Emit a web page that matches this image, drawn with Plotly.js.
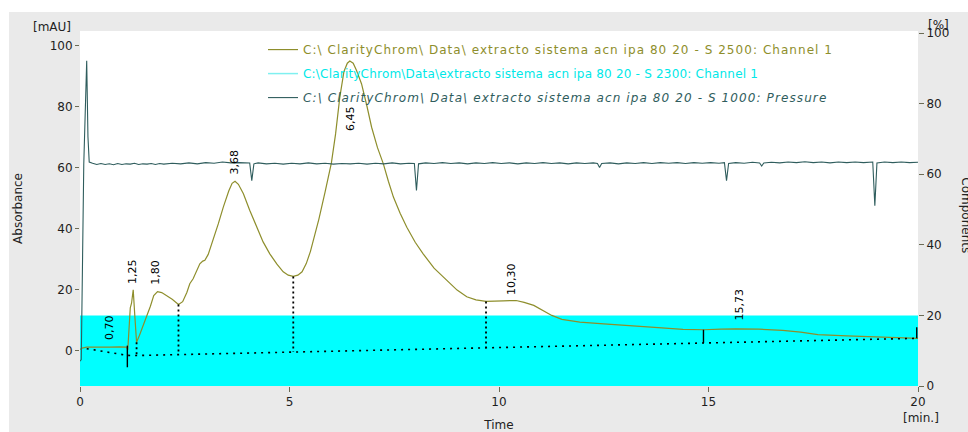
<!DOCTYPE html>
<html>
<head>
<meta charset="utf-8">
<script src="https://cdn.plot.ly/plotly-3.0.1.min.js"></script>
<style>html,body{margin:0;padding:0;background:#fff}#chart{width:968px;height:432px}</style>
</head>
<body>
<div id="chart"></div>
<script>
// ---- Data ----
const channelName = 'C:\\ ClarityChrom\\ Data\\ extracto sistema acn ipa 80 20 - S 2500: Channel 1';
const componentName = 'C:\\ClarityChrom\\Data\\extracto sistema acn ipa 80 20 - S 2300: Channel 1';
const pressureName = 'C:\\ ClarityChrom\\ Data\\ extracto sistema acn ipa 80 20 - S 1000: Pressure';

const channelTime = [0, 0.05, 0.16, 0.4, 0.7, 0.95, 1.11, 1.14, 1.17, 1.20, 1.23, 1.27, 1.31, 1.35, 1.42, 1.50, 1.59, 1.68, 1.76, 1.85, 1.95, 2.07, 2.20, 2.35, 2.45, 2.55, 2.62, 2.70, 2.78, 2.86, 2.93, 2.98, 3.06, 3.18, 3.30, 3.42, 3.55, 3.63, 3.70, 3.78, 3.90, 4.05, 4.22, 4.37, 4.53, 4.70, 4.85, 4.97, 5.09, 5.20, 5.30, 5.40, 5.50, 5.57, 5.70, 5.85, 6.00, 6.10, 6.20, 6.30, 6.38, 6.44, 6.52, 6.60, 6.72, 6.85, 6.96, 7.10, 7.24, 7.36, 7.48, 7.64, 7.80, 8.00, 8.19, 8.45, 8.75, 9.00, 9.23, 9.45, 9.69, 9.90, 10.10, 10.41, 10.60, 10.83, 11.05, 11.26, 11.50, 11.93, 12.50, 13.12, 13.80, 14.39, 14.88, 15.30, 15.66, 16.20, 16.77, 17.20, 17.61, 18.30, 19.05, 20.00];
const channelAbs = [0.3, 0.8, 1.1, 1.0, 1.1, 1.2, 1.1, 0.2, 9.0, 14.0, 15.5, 19.9, 11.0, 2.7, 5.0, 8.0, 10.9, 14.5, 18.0, 19.3, 19.0, 18.0, 16.8, 15.1, 16.0, 19.0, 21.9, 23.5, 26.0, 28.4, 29.3, 29.6, 31.5, 36.3, 41.5, 47.0, 52.3, 54.8, 55.5, 54.5, 51.4, 46.0, 40.4, 35.6, 31.7, 28.3, 25.8, 24.7, 24.3, 24.7, 25.8, 28.5, 32.5, 36.1, 43.0, 52.0, 61.5, 71.0, 83.0, 91.5, 94.2, 94.9, 94.2, 91.8, 87.4, 80.0, 73.2, 66.5, 61.2, 55.5, 50.3, 45.0, 40.4, 35.5, 31.7, 27.0, 23.0, 19.8, 17.6, 16.6, 16.1, 16.3, 16.3, 16.4, 15.8, 14.8, 13.1, 11.5, 10.2, 9.3, 8.7, 8.2, 7.5, 6.9, 6.8, 7.0, 7.1, 7.0, 6.6, 6.0, 5.2, 4.8, 4.4, 4.0];

const componentTime = [0, 20];
const componentPct = [20, 20];

const pressureTime = [0.00, 0.03, 0.09, 0.13, 0.16, 0.19, 0.22, 0.30, 0.40, 0.50, 0.60, 0.70, 0.80, 0.90, 1.00, 1.10, 1.20, 1.30, 1.40, 1.50, 1.60, 1.70, 1.80, 1.90, 2.00, 2.20, 2.40, 2.60, 2.80, 3.00, 3.20, 3.40, 3.60, 3.80, 3.95, 4.05, 4.10, 4.15, 4.25, 4.45, 4.65, 4.85, 5.05, 5.25, 5.45, 5.65, 5.85, 6.05, 6.25, 6.45, 6.65, 6.85, 7.05, 7.25, 7.45, 7.65, 7.85, 7.98, 8.03, 8.08, 8.25, 8.45, 8.65, 8.85, 9.05, 9.25, 9.45, 9.65, 9.85, 10.05, 10.25, 10.45, 10.65, 10.85, 11.05, 11.25, 11.45, 11.65, 11.85, 12.05, 12.25, 12.35, 12.40, 12.45, 12.65, 12.85, 13.05, 13.25, 13.45, 13.65, 13.85, 14.05, 14.25, 14.45, 14.65, 14.85, 15.05, 15.25, 15.38, 15.43, 15.48, 15.65, 15.85, 16.05, 16.22, 16.27, 16.32, 16.50, 16.70, 16.90, 17.10, 17.30, 17.50, 17.70, 17.90, 18.10, 18.30, 18.50, 18.70, 18.92, 18.97, 19.02, 19.20, 19.40, 19.60, 19.80, 20.00];
const pressureValue = [-3.5, -3.0, 61.0, 80.0, 95.0, 70.0, 61.8, 61.4, 61.0, 61.3, 61.0, 61.2, 60.9, 61.3, 61.0, 61.2, 61.1, 61.4, 61.0, 61.2, 61.1, 61.3, 61.0, 61.3, 61.1, 61.4, 61.2, 61.5, 61.2, 61.6, 61.4, 61.8, 61.5, 61.6, 61.4, 61.5, 55.7, 61.2, 61.5, 61.2, 61.4, 61.1, 61.4, 61.2, 61.5, 61.2, 61.4, 61.1, 61.3, 61.2, 61.4, 61.1, 61.4, 61.2, 61.5, 61.2, 61.4, 61.3, 52.5, 61.2, 61.5, 61.3, 61.6, 61.3, 61.5, 61.2, 61.5, 61.3, 61.6, 61.3, 61.5, 61.2, 61.5, 61.3, 61.6, 61.3, 61.5, 61.2, 61.5, 61.3, 61.5, 61.3, 60.0, 61.3, 61.5, 61.2, 61.5, 61.3, 61.6, 61.3, 61.6, 61.4, 61.6, 61.3, 61.6, 61.4, 61.6, 61.4, 61.6, 55.7, 61.3, 61.6, 61.4, 61.7, 61.5, 60.5, 61.5, 61.7, 61.5, 61.8, 61.6, 61.9, 61.6, 61.8, 61.5, 61.8, 61.6, 61.8, 61.6, 61.8, 47.5, 61.5, 61.8, 61.6, 61.8, 61.6, 61.7];

const baselineTime = [0.16, 1.13, 1.35, 20];
const baselineValue = [0.6, -1.6, -1.65, 4.0];

const dropTime = [1.35, 2.35, 5.09, 9.69];
const dropTop = [2.7, 15.1, 24.3, 16.1];
const dropBottom = [-1.65, -1.3, -0.5, 0.9];

const markTime = [1.13, 14.88, 19.97];
const markTop = [1.6, 6.8, 7.6];
const markBottom = [-5.5, 2.4, 4.0];

const peakLabels = ['0,70', '1,25', '1,80', '3,68', '6,45', '10,30', '15,73'];
const peakTime = [0.70, 1.25, 1.80, 3.68, 6.45, 10.30, 15.73];

const xTicks = [0, 5, 10, 15, 20];
const yTicks = [0, 20, 40, 60, 80, 100];
const y2Ticks = [0, 20, 40, 60, 80, 100];

// ---- Styling ----
const FONT = 'DejaVu Sans, Verdana, sans-serif';
const OLIVE = '#8e8e2c';
const CYAN = '#00ffff';
const SLATE = '#2f5d5d';
const labelY = [7.5, 25.9, 25.6, 61.7, 76.0, 23.3, 15.1];

function segments(xs, tops, bottoms) {
  const sx = [], sy = [];
  xs.forEach((x, i) => { sx.push(x, x, null); sy.push(tops[i], bottoms[i], null); });
  return {x: sx, y: sy};
}
const drops = segments(dropTime, dropTop, dropBottom);
const marks = segments(markTime, markTop, markBottom);

const traces = [
  {x: componentTime, y: componentPct, yaxis: 'y2', type: 'scatter', mode: 'lines',
   fill: 'tozeroy', fillcolor: CYAN, line: {color: CYAN, width: 0}, showlegend: false, hoverinfo: 'skip'},
  {x: channelTime, y: channelAbs, type: 'scatter', mode: 'lines',
   name: '<span style="color:' + OLIVE + ';letter-spacing:1.05px">' + channelName + '</span>',
   legendgroup: 'a', line: {color: OLIVE, width: 1.2}},
  {x: [null], y: [null], type: 'scatter', mode: 'lines',
   name: '<span style="color:#00e8e8;letter-spacing:0.2px">' + componentName + '</span>',
   legendgroup: 'b', line: {color: '#7ff0f0', width: 1.5}},
  {x: pressureTime, y: pressureValue, type: 'scatter', mode: 'lines',
   name: '<i><span style="color:' + SLATE + ';letter-spacing:1.1px">' + pressureName + '</span></i>',
   legendgroup: 'c', line: {color: SLATE, width: 1.1}},
  {x: baselineTime, y: baselineValue, type: 'scatter', mode: 'lines', showlegend: false,
   line: {color: '#000', width: 1.6, dash: '2px,5px'}},
  {x: drops.x, y: drops.y, type: 'scatter', mode: 'lines', showlegend: false,
   line: {color: '#000', width: 1.8, dash: '2px,3px'}},
  {x: marks.x, y: marks.y, type: 'scatter', mode: 'lines', showlegend: false,
   line: {color: '#000', width: 1.4}}
];

const annotations = peakLabels.map((t, i) => ({
  x: peakTime[i], y: labelY[i], xref: 'x', yref: 'y', text: t, showarrow: false,
  textangle: -90, xanchor: 'center', yanchor: 'middle', font: {family: FONT, size: 11, color: '#000'}
}));
annotations.push(
  {xref: 'paper', yref: 'paper', x: -0.0084, y: 1.0099, xanchor: 'right', yanchor: 'middle', text: '[mAU]', showarrow: false, font: {family: FONT, size: 12, color: '#222'}},
  {xref: 'paper', yref: 'paper', x: 1.0239, y: 1.0169, xanchor: 'center', yanchor: 'middle', text: '[%]', showarrow: false, font: {family: FONT, size: 12, color: '#222'}},
  {xref: 'paper', yref: 'paper', x: 1.0036, y: -0.0901, xanchor: 'center', yanchor: 'middle', text: '[min.]', showarrow: false, font: {family: FONT, size: 12, color: '#222'}},
  {xref: 'paper', yref: 'paper', x: 1.058, y: 0.482, xanchor: 'center', yanchor: 'middle', text: 'Components', textangle: 90, showarrow: false, font: {family: FONT, size: 12, color: '#222'}}
);

const tickStyle = {ticks: 'outside', ticklen: 5, tickwidth: 1, tickcolor: '#6b6b55', showgrid: false, zeroline: false, showline: false,
  tickfont: {family: FONT, size: 12, color: '#1e1e1e'}};

const layout = {
  width: 968, height: 432,
  margin: {l: 80, r: 50, t: 31, b: 46},
  paper_bgcolor: '#eaeaea', plot_bgcolor: '#ffffff',
  showlegend: true,
  legend: {x: 0.2184, y: 0.9885, xanchor: 'left', yanchor: 'top', bgcolor: 'rgba(0,0,0,0)', borderwidth: 0,
    tracegroupgap: 5, font: {family: FONT, size: 12, color: '#555'}},
  xaxis: Object.assign({}, tickStyle, {range: [0, 20], tickvals: xTicks, ticktext: xTicks.map(String),
    title: {text: 'Time', standoff: 18, font: {family: FONT, size: 12, color: '#222'}}}),
  yaxis: Object.assign({}, tickStyle, {range: [-11.64, 104.75], tickvals: yTicks, ticklen: 4, overlaying: 'y2',
    title: {text: 'Absorbance', standoff: 24, font: {family: FONT, size: 12, color: '#222'}}}),
  yaxis2: Object.assign({}, tickStyle, {range: [0, 100.6], tickvals: y2Ticks, side: 'right', anchor: 'x'}),
  shapes: [
    {type: 'rect', xref: 'paper', yref: 'paper', x0: -0.2, x1: 1.2, y0: 1.0535, y1: 1.2, fillcolor: '#ffffff', line: {width: 0}, layer: 'below'},
    {type: 'rect', xref: 'paper', yref: 'paper', x0: -0.2, x1: -0.0847, y0: -0.3, y1: 1.2, fillcolor: '#ffffff', line: {width: 0}, layer: 'below'}
  ],
  annotations: annotations
};

Plotly.newPlot('chart', traces, layout, {displayModeBar: false, staticPlot: true});
</script>
</body>
</html>
